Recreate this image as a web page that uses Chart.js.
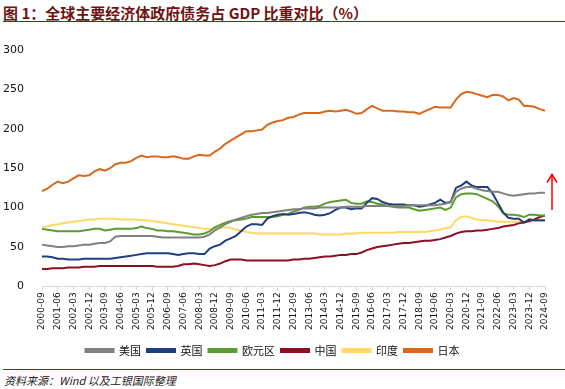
<!DOCTYPE html>
<html><head><meta charset="utf-8">
<script src="https://cdn.jsdelivr.net/npm/chart.js@4/dist/chart.umd.min.js"></script>
<style>
html,body{margin:0;padding:0;background:#fff;width:565px;height:389px;overflow:hidden;position:relative;font-family:"Noto Sans CJK SC",sans-serif;}
#title{position:absolute;left:3px;top:2px;font-size:15px;font-weight:bold;color:#6e1414;white-space:nowrap;letter-spacing:0px;}
#line1{position:absolute;left:3px;right:0;top:21px;height:0;border-top:1px solid #8b1a1a;}
#line2{position:absolute;left:3px;right:0;top:369px;height:0;border-top:1px solid #8b1a1a;}
#src{position:absolute;left:4px;top:372px;font-size:11px;font-style:italic;color:#222;white-space:nowrap;}
#wrap{position:absolute;left:0;top:28px;width:565px;height:338px;}
</style></head>
<body>
<div id="title">图 1：全球主要经济体政府债务占 GDP 比重对比（%）</div>
<div id="line1"></div>
<div id="wrap"><canvas id="c"></canvas></div>
<div id="line2"></div>
<div id="src">资料来源：Wind 以及工银国际整理</div>
<script>
// categories: quarterly, 2000-09 .. 2024-09
const quarters = [];
for (let y = 2000; y <= 2024; y++) {
  for (const m of ["03","06","09","12"]) {
    if (y === 2000 && (m === "03" || m === "06")) continue;
    if (y === 2024 && m === "12") continue;
    quarters.push(y + "-" + m);
  }
}
const seriesNames = ["美国","英国","欧元区","中国","印度","日本"];
const us = [53,52,51,50,50,51,51,52,53,53,54,55,55,57,63,64,64,64,64,64,64,64,63,62,62,62,62,62,62,62,62,63,66,71,75,79,82,85,87,89,91,92,93,93,94,95,96,97,98,98,99,99,99,100,100,100,100,100,101,101,101,101,102,102,102,102,102,102,102,102,103,103,103,103,103,103,104,105,107,120,124,126,126,124,122,121,120,120,118,116,115,116,117,118,118,119,119];
const uk = [38,38,37,35,35,34,34,34,35,35,35,35,35,35,36,37,38,39,40,41,42,42,42,42,42,41,40,41,42,42,41,41,48,51,53,58,61,64,70,76,79,79,78,86,89,91,92,91,92,93,94,93,91,90,91,93,97,100,100,98,99,99,106,112,111,107,105,104,104,104,103,103,101,102,104,106,110,106,107,125,128,133,128,126,126,126,118,106,94,87,86,86,81,85,84,84,84];
const euro = [73,72,71,70,70,70,70,70,71,72,73,73,71,72,73,73,73,73,74,76,74,73,71,71,70,70,69,68,67,66,66,67,70,75,78,81,83,84,85,86,88,88,88,88,88,89,91,92,95,97,100,101,101,102,105,107,108,109,110,106,105,105,108,107,105,104,102,101,100,100,100,98,96,97,98,99,100,97,100,113,117,118,118,117,114,111,108,102,93,91,91,90,88,91,91,90,90];
const china = [22,22,23,23,23,24,24,24,25,25,25,26,26,26,26,26,26,26,26,26,26,26,25,25,25,25,26,28,28,29,28,27,26,27,29,32,34,34,34,33,33,33,33,33,33,33,33,33,34,34,35,35,36,37,38,38,39,40,40,41,41,43,46,48,50,51,52,53,54,55,55,56,57,58,58,59,60,62,64,67,69,70,70,71,71,72,73,74,76,77,78,80,81,83,85,88,90];
const india = [75,76,78,79,80,81,82,83,84,85,85,86,86,86,86,85,85,85,85,84,84,83,82,81,80,79,78,77,76,75,74,73,73,73,74,75,74,72,71,69,68,67,67,67,67,67,67,67,67,67,67,67,67,66,66,66,66,66,67,67,67,68,68,68,68,68,68,68,69,69,69,69,69,69,70,71,72,74,75,84,88,89,87,85,84,84,83,82,82,82,82,82,82,82,83,83,83];
const japan = [121,124,129,133,131,133,137,141,140,141,146,149,147,150,155,157,157,159,163,166,164,165,165,164,164,165,164,162,162,165,167,166,166,171,175,181,185,189,193,197,197,198,199,205,208,210,211,214,215,218,220,220,220,220,222,223,222,223,224,222,219,220,225,229,226,223,223,223,222,222,221,221,219,222,225,228,227,227,227,237,244,247,246,244,242,240,243,243,241,236,239,237,229,229,228,225,223];
const yTicks = [0,50,100,150,200,250,300];
const arrowFrom = 97, arrowTo = 142;

const colors = ["#808080","#1f3f7f","#5b9b30","#8c1022","#ffd966","#d8691c"];
const seriesData = [us, uk, euro, china, india, japan];

const arrowPlugin = {
  id: "arrow",
  afterDatasetsDraw(chart) {
    const ctx = chart.ctx, y = chart.scales.y;
    const x = chart.chartArea.right + 7;
    const y1 = y.getPixelForValue(arrowFrom), y2 = y.getPixelForValue(arrowTo);
    ctx.save();
    ctx.strokeStyle = "#ff0000"; ctx.lineWidth = 1.5;
    ctx.beginPath(); ctx.moveTo(x, y1); ctx.lineTo(x, y2); ctx.stroke();
    ctx.beginPath(); ctx.moveTo(x - 5, y2 + 8); ctx.lineTo(x, y2); ctx.lineTo(x + 5, y2 + 8); ctx.stroke();
    ctx.restore();
  }
};

new Chart(document.getElementById("c"), {
  type: "line",
  data: {
    labels: quarters,
    datasets: seriesNames.map((n, i) => ({
      label: n, data: seriesData[i],
      borderColor: colors[i], backgroundColor: colors[i],
      borderWidth: 2, pointRadius: 0, tension: 0, fill: false
    }))
  },
  options: {
    responsive: true, maintainAspectRatio: false, animation: false,
    layout: { padding: { left: 0, right: 20, top: 22, bottom: 0 } },
    plugins: {
      tooltip: { enabled: false },
      legend: {
        position: "bottom",
        labels: { boxWidth: 28, boxHeight: 3, padding: 6, color: "#111",
          font: { family: "Noto Sans CJK SC", size: 11 } }
      }
    },
    scales: {
      x: {
        offset: false,
        afterFit: (s) => { s.height += 7; },
        grid: { display: true, drawOnChartArea: false, color: "#d9d9d9", tickLength: 4 },
        border: { color: "#d9d9d9" },
        ticks: {
          autoSkip: false, maxRotation: 90, minRotation: 90, color: "#111",
          font: { family: "DejaVu Sans", size: 9 }, padding: 2,
          callback: function(v, i) { return i % 3 === 0 ? quarters[i] : null; }
        }
      },
      y: {
        min: 0, max: 300,
        afterBuildTicks: (s) => { s.ticks = yTicks.map(v => ({ value: v })); },
        afterFit: (s) => { s.width = 42; },
        grid: { display: false },
        border: { display: false },
        ticks: { color: "#111", font: { family: "DejaVu Sans", size: 11 }, padding: 10 }
      }
    }
  },
  plugins: [arrowPlugin]
});
</script>
</body></html>
